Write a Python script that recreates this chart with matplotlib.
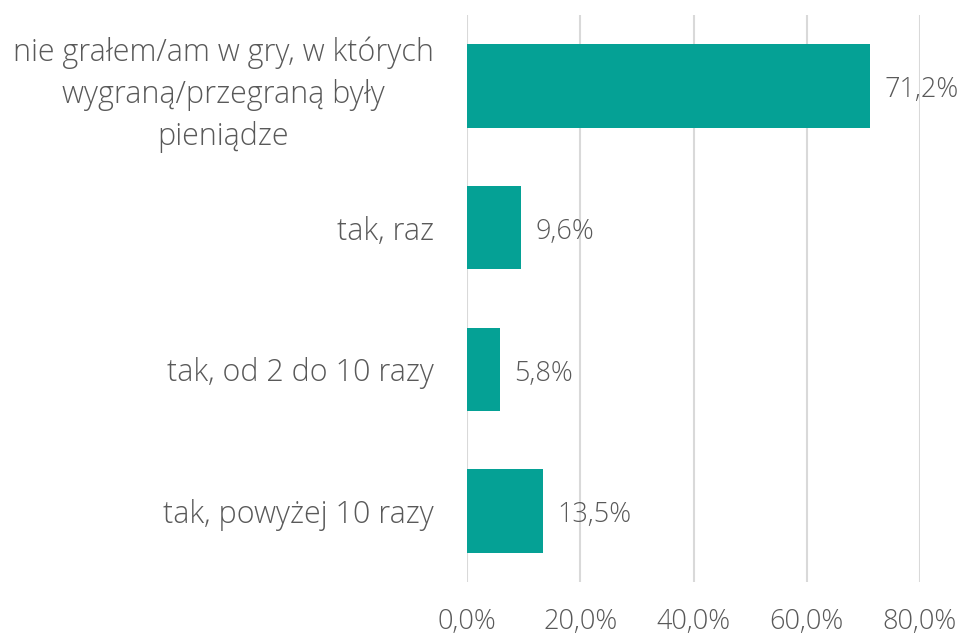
import matplotlib
matplotlib.use("Agg")
import matplotlib.pyplot as plt
from matplotlib.ticker import FuncFormatter

categories = [
    "nie grałem/am w gry, w których\nwygraną/przegraną były\npieniądze",
    "tak, raz",
    "tak, od 2 do 10 razy",
    "tak, powyżej 10 razy",
]
values = [71.2, 9.6, 5.8, 13.5]
xticks = [0, 20, 40, 60, 80]

BAR = "#05A195"
TXT = "#595959"
GRID = "#D9D9D9"
FS = 22
FSN = 19.5

plt.rcParams['font.family'] = ['Open Sans', 'DejaVu Sans']

fig = plt.figure(figsize=(9.6, 6.37), dpi=100)
ax = fig.add_axes([467/960, 1 - 582/637, (920 - 467)/960, (582 - 15)/637])

ypos = list(range(len(categories)))
bars = ax.barh(ypos, values, height=0.59, color=BAR, zorder=3)
ax.set_ylim(len(categories) - 0.5, -0.5)
ax.set_xlim(0, 80)
ax.set_xticks(xticks)
ax.xaxis.set_major_formatter(FuncFormatter(lambda v, p: f"{v:.1f}%".replace(".", ",")))
ax.set_yticks(ypos)
ax.set_yticklabels(categories, multialignment='center', linespacing=1.4)

for lbl in ax.get_yticklabels():
    lbl.set_fontsize(FS)
    lbl.set_color(TXT)
    lbl.set_fontweight('light')
for lbl in ax.get_xticklabels():
    lbl.set_fontsize(FSN)
    lbl.set_color(TXT)
    lbl.set_fontweight('light')

ax.tick_params(axis='y', length=0, pad=24)
ax.tick_params(axis='x', length=0, pad=19)

ax.grid(axis='x', color=GRID, linewidth=1.5, zorder=0)
for s in ax.spines.values():
    s.set_visible(False)

for b, v in zip(bars, values):
    ax.annotate(f"{v:.1f}%".replace(".", ","), xy=(b.get_width(), b.get_y() + b.get_height()/2),
                xytext=(10, -3), textcoords='offset points', va='center', ha='left',
                fontsize=FSN, color=TXT, fontweight='light')

fig.savefig("out.png", dpi=100)
